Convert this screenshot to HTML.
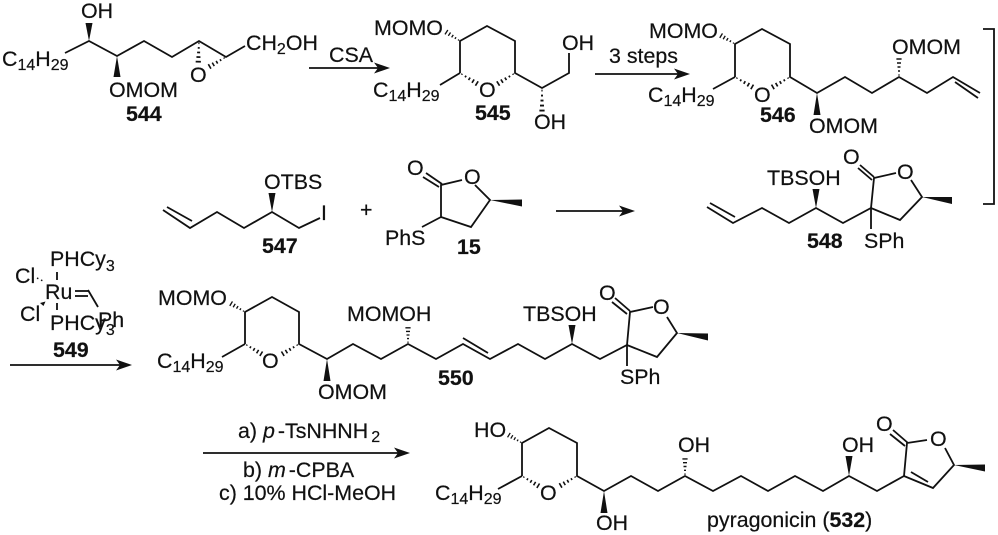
<!DOCTYPE html>
<html><head><meta charset="utf-8"><style>
html,body{margin:0;padding:0;background:#fff;width:998px;height:535px;overflow:hidden}
svg{display:block}
text{font-family:"Liberation Sans",Arial,sans-serif;font-size:21.4px;fill:#111;stroke:#111;stroke-width:.2}
.b{font-weight:bold}
.s{font-size:16px}
.l{fill:none;stroke:#111;stroke-width:1.8;stroke-linejoin:miter;stroke-linecap:butt}
.w{fill:#111;stroke:none}
</style></head><body>
<svg width="998" height="535" viewBox="0 0 998 535" xmlns="http://www.w3.org/2000/svg">
<defs>
<g id="h" stroke="#111" stroke-width="1.5" fill="none">
<path d="M2 -.6V.6M6 -1V1M10 -1.5V1.5M14 -2V2M18 -2.6V2.6"/>
</g>
</defs>

<!-- 544 -->
<text x="2" y="66">C<tspan class="s" dy="4">14</tspan><tspan dy="-4">H</tspan><tspan class="s" dy="4">29</tspan></text>
<polyline class="l" points="65,53 89,41 117,56 144,41 172,57 199,41 226,57 245,46"/>
<polygon class="w" points="89,41 85.5,23 92.5,23"/>
<polygon class="w" points="117,56 113.5,77 120.5,77"/>
<text x="81" y="18">OH</text>
<text x="109" y="97">OMOM</text>
<text class="b" x="126" y="121">544</text>
<text x="190" y="82">O</text>
<use href="#h" transform="translate(199,41) rotate(92) scale(1.15,1)"/>
<use href="#h" transform="translate(226,57) rotate(150) scale(1.05,1)"/>
<text x="246" y="50">CH<tspan class="s" dy="4">2</tspan><tspan dy="-4">OH</tspan></text>

<!-- arrow 1 -->
<text x="329" y="62">CSA</text>
<line class="l" x1="309" y1="68" x2="380" y2="68"/>
<polygon class="w" points="390,68 374,62.5 378,68 374,73.5"/>

<!-- 545 -->
<text x="374" y="35">MOMO</text>
<polyline class="l" points="460,73 460,41 487,26 515,41 515,73 542,88 569,73 569,53"/>
<line class="l" x1="460" y1="73" x2="440" y2="85"/>
<use href="#h" transform="translate(460,41) rotate(213) scale(.9,1)"/>
<use href="#h" transform="translate(460,73) rotate(32) scale(1.1,1)"/>
<use href="#h" transform="translate(515,73) rotate(148) scale(1.1,1)"/>
<use href="#h" transform="translate(542,88) rotate(90) scale(1.25,1)"/>
<text x="373" y="97">C<tspan class="s" dy="4">14</tspan><tspan dy="-4">H</tspan><tspan class="s" dy="4">29</tspan></text>
<text x="479" y="97">O</text>
<text class="b" x="475" y="120">545</text>
<text x="562" y="50">OH</text>
<text x="534" y="129">OH</text>

<!-- arrow 2 -->
<text x="609" y="63">3 steps</text>
<line class="l" x1="595" y1="74" x2="680" y2="74"/>
<polygon class="w" points="690,74 674,68.5 678,74 674,79.5"/>

<!-- 546 -->
<text x="649" y="38">MOMO</text>
<text x="648" y="102">C<tspan class="s" dy="4">14</tspan><tspan dy="-4">H</tspan><tspan class="s" dy="4">29</tspan></text>
<polyline class="l" points="735,77 735,44 762,29 790,44 790,77 817,93 845,77 872,93 899,77 927,93 953,77 980,93"/>
<line class="l" x1="955" y1="82" x2="978" y2="98"/>
<line class="l" x1="735" y1="77" x2="713" y2="89"/>
<use href="#h" transform="translate(735,44) rotate(211) scale(.9,1)"/>
<use href="#h" transform="translate(735,77) rotate(30) scale(1.1,1)"/>
<use href="#h" transform="translate(790,77) rotate(150) scale(1.1,1)"/>
<use href="#h" transform="translate(899,77) rotate(-90)"/>
<polygon class="w" points="817,93 813.5,115 820.5,115"/>
<text x="754" y="102">O</text>
<text class="b" x="760" y="122">546</text>
<text x="809" y="133">OMOM</text>
<text x="892" y="54">OMOM</text>

<!-- bracket -->
<polyline class="l" points="983,29 994,29 994,204 983,204"/>

<!-- 547 -->
<polyline class="l" points="163,210 190,228 217,212 244,228 272,212 299,228 320,218"/>
<line class="l" x1="167" y1="207" x2="192" y2="221"/>
<polygon class="w" points="272,212 268.5,193 275.5,193"/>
<text x="264" y="189">OTBS</text>
<text x="321" y="220">I</text>
<text class="b" x="262" y="253">547</text>
<text x="360" y="217">+</text>

<!-- 15 -->
<text x="407" y="175">O</text>
<text x="464" y="184">O</text>
<polyline class="l" points="422,227 441,217 441,185 462,180"/>
<line class="l" x1="426" y1="173" x2="442" y2="184"/>
<line class="l" x1="423" y1="177" x2="439" y2="187"/>
<polyline class="l" points="475,185 490,200 471,227 441,217"/>
<polygon class="w" points="490,200 522,199.5 522,206.5"/>
<text x="385" y="245">PhS</text>
<text class="b" x="457" y="254">15</text>

<!-- arrow 3 -->
<line class="l" x1="556" y1="211" x2="625" y2="211"/>
<polygon class="w" points="635,211 619,205.5 623,211 619,216.5"/>

<!-- 548 -->
<polyline class="l" points="707,207 733,223 762,208 789,223 816,208 843,223 871,208 900,220 922,197 911,180"/>
<line class="l" x1="710" y1="203" x2="735" y2="217"/>
<polygon class="w" points="816,208 812.5,189 819.5,189"/>
<text x="767" y="185">TBSOH</text>
<polyline class="l" points="871,229 871,208 874,178 896,173"/>
<line class="l" x1="860" y1="165" x2="874" y2="177"/>
<line class="l" x1="858" y1="168" x2="872" y2="180"/>
<text x="843" y="164">O</text>
<text x="897" y="179">O</text>
<polygon class="w" points="922,197 952,197 952,204"/>
<text class="b" x="807" y="248">548</text>
<text x="864" y="248">SPh</text>

<!-- 549 -->
<text x="50" y="266">PHCy<tspan class="s" dy="5">3</tspan></text>
<text x="15" y="283">Cl</text>
<text x="45" y="299">Ru</text>
<line class="l" stroke-width="1.4" x1="75" y1="291" x2="88" y2="291"/>
<line class="l" stroke-width="1.4" x1="75" y1="296" x2="88" y2="296"/>
<line class="l" stroke-width="1.4" x1="88" y1="290" x2="98" y2="307"/>
<line class="l" stroke-width="1.4" x1="57" y1="272" x2="57" y2="280"/>
<line class="l" stroke-width="1.4" x1="57" y1="303" x2="57" y2="310"/>
<line x1="37" y1="278" x2="45" y2="282" stroke="#111" stroke-width="1.5" stroke-dasharray="1.5 3"/>
<polygon class="w" points="45.5,301.5 40,303 43.5,306"/>
<text x="20" y="321">Cl</text>
<text x="98" y="327">Ph</text>
<text x="50" y="330">PHCy<tspan class="s" dy="5">3</tspan></text>
<text class="b" x="53" y="357">549</text>

<!-- arrow 4 -->
<line class="l" x1="10" y1="365" x2="122" y2="365"/>
<polygon class="w" points="132,365 116,359.5 120,365 116,370.5"/>

<!-- 550 -->
<text x="158" y="305">MOMO</text>
<text x="157" y="368">C<tspan class="s" dy="4">14</tspan><tspan dy="-4">H</tspan><tspan class="s" dy="4">29</tspan></text>
<polyline class="l" points="245,344 245,312 272,297 299,312 299,344 327,359 353,344 381,359 408,344 436,359 463,344 490,359 518,344 545,359 572,344 600,359 627,345 657,357 677,333 667,317"/>
<line class="l" x1="245" y1="344" x2="222" y2="357"/>
<line class="l" x1="463" y1="338" x2="488" y2="353"/>
<use href="#h" transform="translate(245,312) rotate(211) scale(.9,1)"/>
<use href="#h" transform="translate(245,344) rotate(31) scale(1.05,1)"/>
<use href="#h" transform="translate(299,344) rotate(149) scale(1.05,1)"/>
<use href="#h" transform="translate(408,344) rotate(-90) scale(.9,1)"/>
<text x="262" y="368">O</text>
<polygon class="w" points="327,359 323.5,381 330.5,381"/>
<text x="318" y="399">OMOM</text>
<text x="347" y="321">MOMOH</text>
<text x="523" y="321">TBSOH</text>
<polygon class="w" points="572,344 568.5,325 575.5,325"/>
<text class="b" x="438" y="385">550</text>
<polyline class="l" points="627,366 627,345 630,312 653,307"/>
<line class="l" x1="615" y1="298" x2="630" y2="311"/>
<line class="l" x1="612" y1="302" x2="627" y2="314"/>
<text x="599" y="300">O</text>
<text x="653" y="314">O</text>
<polygon class="w" points="677,333 708,333.5 708,340.5"/>
<text x="620" y="384">SPh</text>

<!-- arrow 5 -->
<text x="238" y="438">a) <tspan font-style="italic">p</tspan><tspan dx="3">-TsNHNH</tspan><tspan class="s" dx="3" dy="4">2</tspan></text>
<line class="l" x1="203" y1="453" x2="400" y2="453"/>
<polygon class="w" points="410,453 394,447.5 398,453 394,458.5"/>
<text x="243" y="477">b) <tspan font-style="italic">m</tspan><tspan dx="3">-CPBA</tspan></text>
<text x="219" y="500">c) 10% HCl-MeOH</text>

<!-- 532 -->
<text x="474" y="437">HO</text>
<text x="435" y="500">C<tspan class="s" dy="4">14</tspan><tspan dy="-4">H</tspan><tspan class="s" dy="4">29</tspan></text>
<polyline class="l" points="522,476 522,443 549,428 577,443 577,476 604,491 631,476 658,491 685,476 713,491 741,476 768,491 795,476 823,491 849,476 877,491 904,476 933,488 954,465 945,448"/>
<line class="l" x1="522" y1="476" x2="498" y2="489"/>
<use href="#h" transform="translate(522,443) rotate(211) scale(.85,1)"/>
<use href="#h" transform="translate(522,476) rotate(31) scale(1.05,1)"/>
<use href="#h" transform="translate(577,476) rotate(150) scale(1.05,1)"/>
<use href="#h" transform="translate(685,476) rotate(-90) scale(.95,1)"/>
<text x="540" y="500">O</text>
<polygon class="w" points="604,491 600.5,513 607.5,513"/>
<text x="596" y="530">OH</text>
<text x="678" y="452">OH</text>
<text x="842" y="452">OH</text>
<polygon class="w" points="849,476 845.5,456 852.5,456"/>
<polyline class="l" points="904,476 907,443 927,440"/>
<line class="l" x1="911" y1="472" x2="928" y2="482"/>
<line class="l" x1="893" y1="430" x2="908" y2="443"/>
<line class="l" x1="890" y1="434" x2="905" y2="446"/>
<text x="876" y="431">O</text>
<text x="930" y="446">O</text>
<polygon class="w" points="954,465 985,464.5 985,471.5"/>
<text x="707" y="527">pyragonicin (<tspan class="b">532</tspan>)</text>
</svg>
</body></html>
